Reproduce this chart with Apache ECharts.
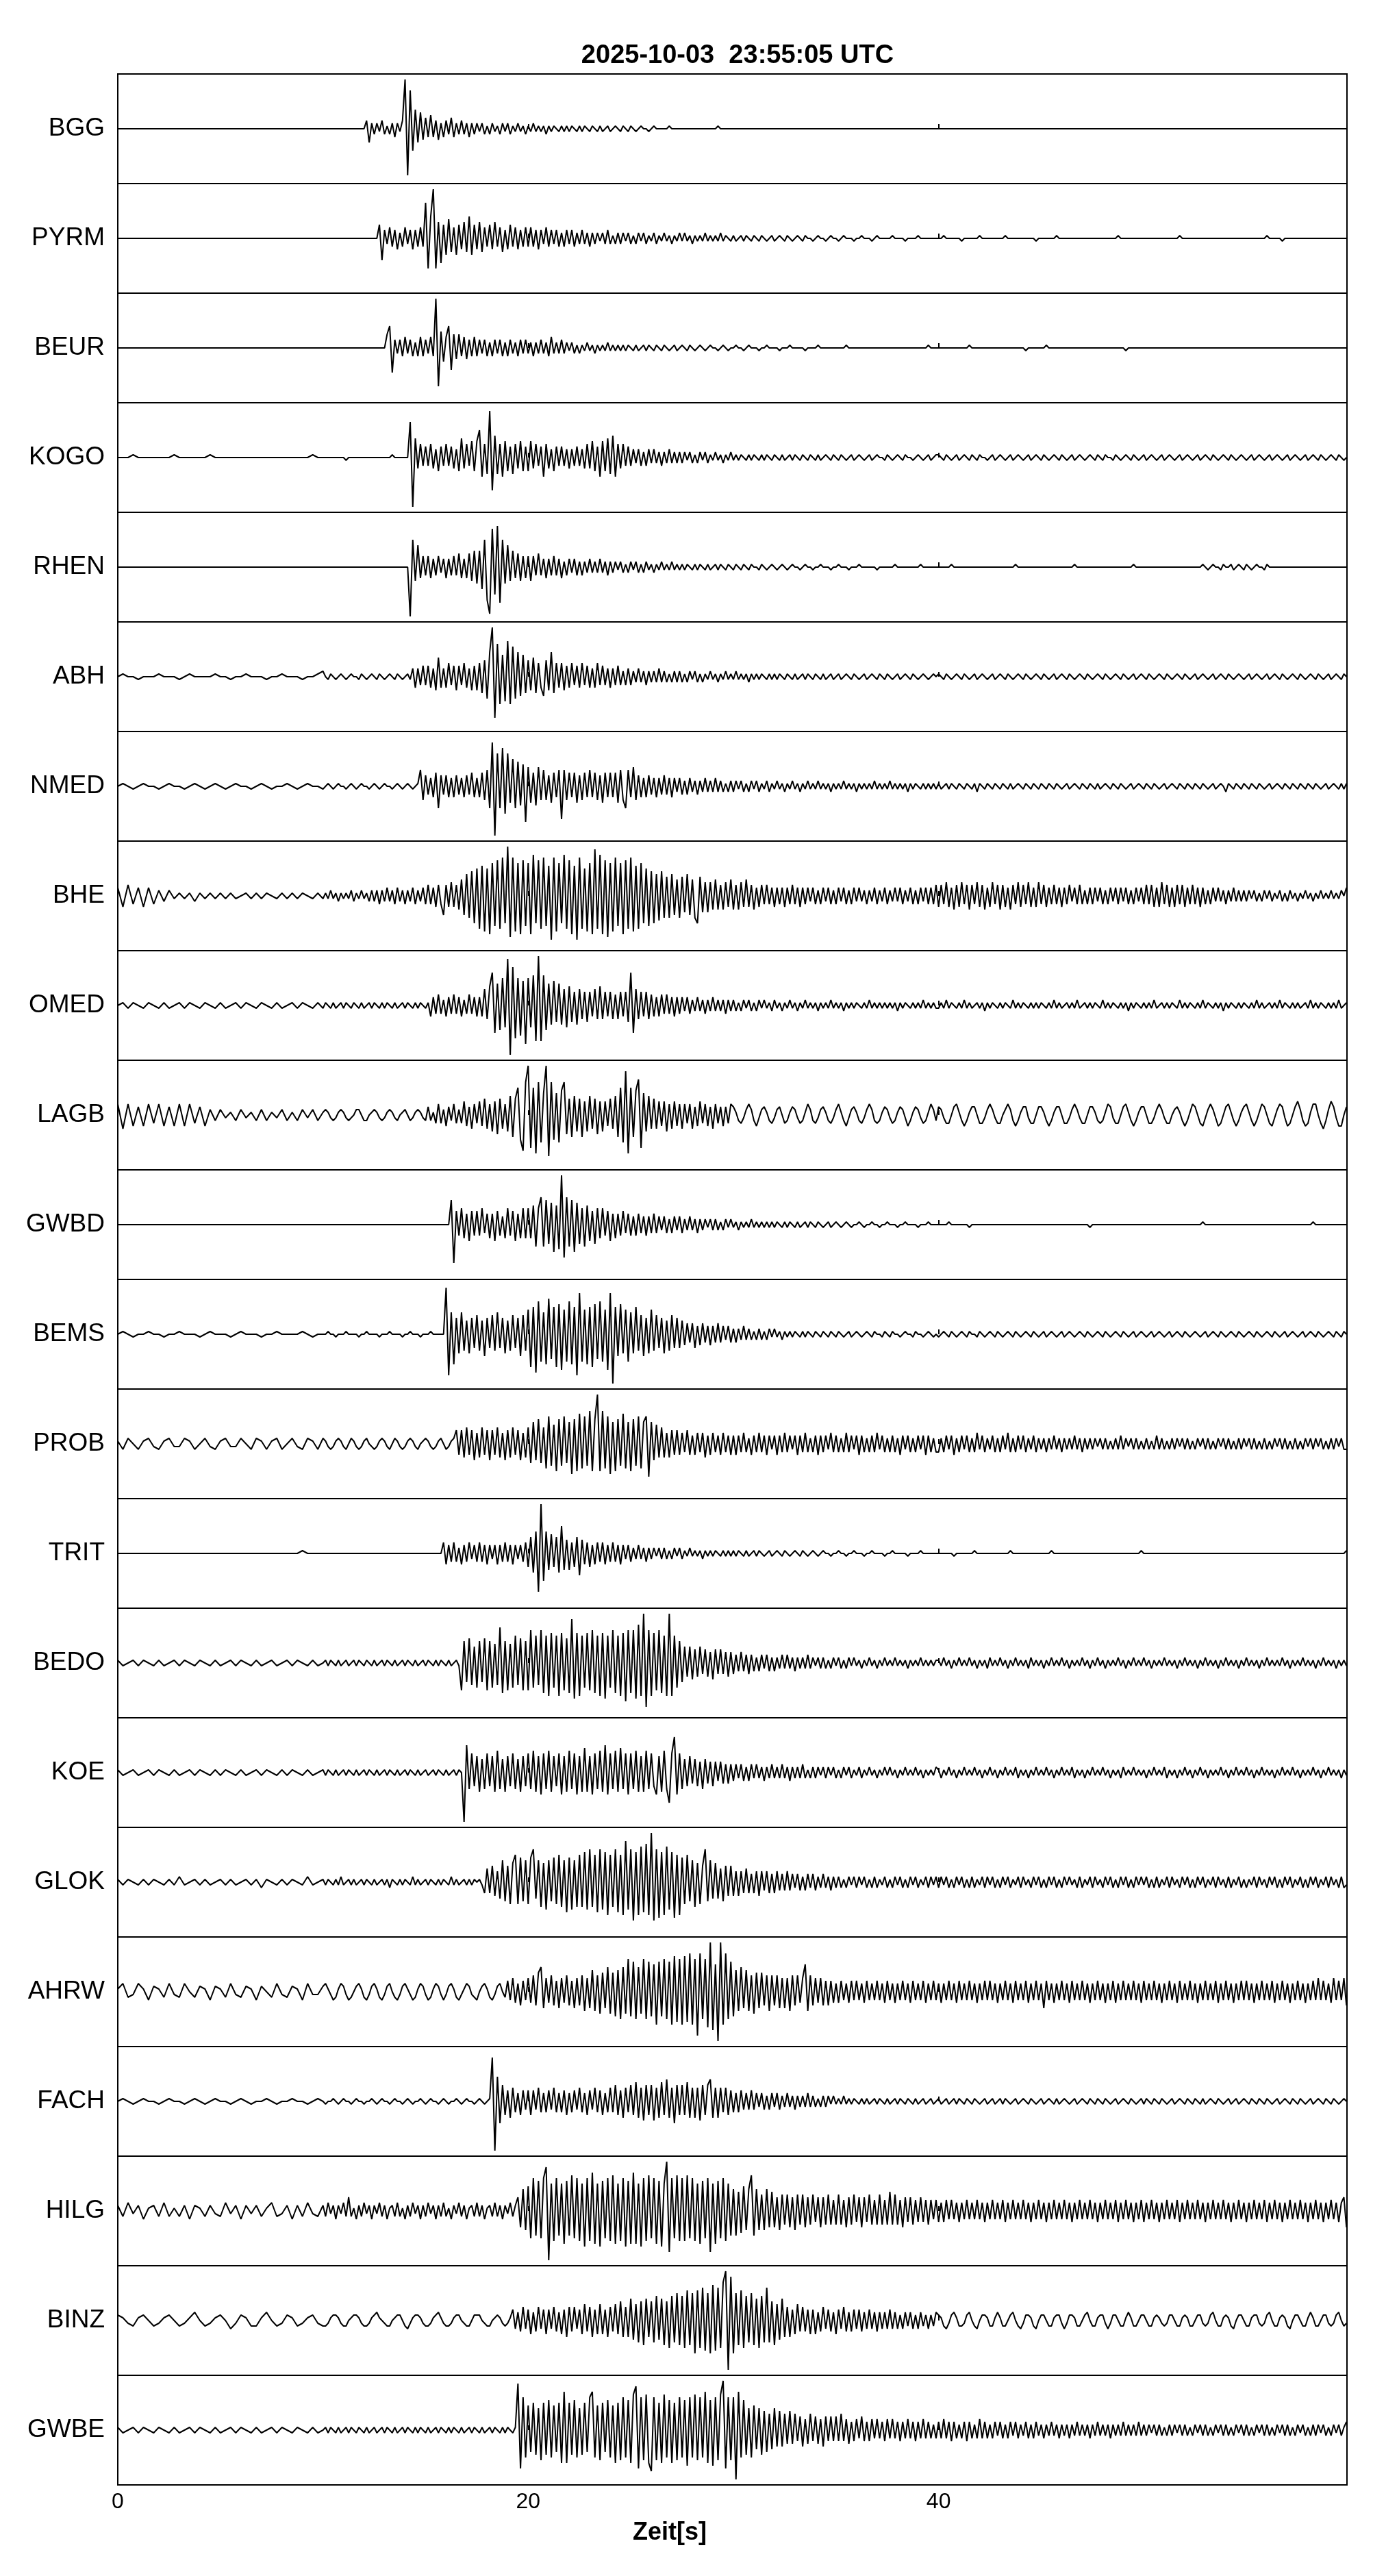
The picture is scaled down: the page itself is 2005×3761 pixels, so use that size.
<!DOCTYPE html>
<html>
<head>
<meta charset="utf-8">
<script src="https://cdn.jsdelivr.net/npm/echarts@6/dist/echarts.min.js"></script>
<style>html,body{margin:0;padding:0;background:#fff}#c{width:2005px;height:3761px}</style>
</head>
<body>
<div id="c"></div>
<script>
const TITLE = '2025-10-03  23:55:05 UTC';
const X_NAME = 'Zeit[s]';
const X_MAX = 59.9;
const X_TICK = 20;
// sampling schedule of every trace: [start s, step s, count]
const SEGMENTS = [[0, 0.25, 40], [10, 0.125, 400]];
const stations = ['BGG','PYRM','BEUR','KOGO','RHEN','ABH','NMED','BHE','OMED','LAGB','GWBD','BEMS','PROB','TRIT','BEDO','KOE','GLOK','AHRW','FACH','HILG','BINZ','GWBE'];

const BGG = [
0,0,0,0,0,0,0,0,0,0,0,0,0,0,0,0,0,0,0,0,
0,0,0,0,0,0,0,0,0,0,0,0,0,0,0,0,0,0,0,0,
0,0,0,0,0,0,0,0,0,0,0,0,0,0,0,0,0,3,-5,2,
-2,2,-1,3,-2,1,-2,2,-3,2,-1,3,18,-17,14,-8,7,-5,6,-4,
4,-3,5,-3,3,-4,2,-3,3,-2,4,-3,2,-2,3,-2,2,-3,2,-2,
2,-1,2,-2,1,-2,2,-1,1,-2,2,-1,2,-2,1,-1,2,-1,1,-2,
1,-1,2,-1,1,-1,1,-2,1,-1,1,0,-1,1,-1,1,-1,1,0,-1,
1,-1,1,0,-1,1,0,-1,1,-1,0,1,-1,0,1,0,-1,1,0,-1,
1,0,-1,0,1,0,0,-1,0,1,0,0,0,0,0,1,0,0,0,0,
0,0,0,0,0,0,0,0,0,0,0,0,0,0,1,0,0,0,0,0,
0,0,0,0,0,0,0,0,0,0,0,0,0,0,0,0,0,0,0,0,
0,0,0,0,0,0,0,0,0,0,0,0,0,0,0,0,0,0,0,0,
0,0,0,0,0,0,0,0,0,0,0,0,0,0,0,0,0,0,0,0,
0,0,0,0,0,0,0,0,0,0,0,0,0,0,0,0,0,0,0,0,
0,0,0,0,0,0,0,0,0,0,0,0,0,0,0,0,0,0,0,0,
0,0,0,0,0,0,0,0,0,0,0,0,0,0,0,0,0,0,0,0,
0,0,0,0,0,0,0,0,0,0,0,0,0,0,0,0,0,0,0,0,
0,0,0,0,0,0,0,0,0,0,0,0,0,0,0,0,0,0,0,0,
0,0,0,0,0,0,0,0,0,0,0,0,0,0,0,0,0,0,0,0,
0,0,0,0,0,0,0,0,0,0,0,0,0,0,0,0,0,0,0,0,
0,0,0,0,0,0,0,0,0,0,0,0,0,0,0,0,0,0,0,0,
0,0,0,0,0,0,0,0,0,0,0,0,0,0,0,0,0,0,0,0];

const PYRM = [
0,0,0,0,0,0,0,0,0,0,0,0,0,0,0,0,0,0,0,0,
0,0,0,0,0,0,0,0,0,0,0,0,0,0,0,0,0,0,0,0,
0,0,0,0,0,0,0,0,0,0,0,0,0,0,0,0,0,0,0,0,
0,0,5,-8,3,-2,4,-3,3,-4,2,-3,4,-2,3,-4,3,-3,4,-3,
13,-11,8,18,-11,6,-9,5,-6,7,-5,4,-6,5,-4,6,-5,8,-6,5,
-4,6,-5,4,-3,5,-4,6,-3,4,-5,3,-4,5,-3,4,-4,3,-3,4,
-3,4,-3,3,-4,3,-2,4,-3,3,-2,3,-3,2,-3,3,-2,3,-3,2,
-2,3,-2,2,-3,2,-2,2,-1,2,-2,3,-2,1,-2,2,-2,2,-1,2,
-2,1,-2,2,-1,2,-2,1,-1,2,-2,1,-1,2,-1,1,-2,1,-1,2,
-1,2,-1,1,-2,1,-1,1,-1,2,-1,1,-1,1,-1,2,-1,1,0,-1,
1,-1,0,1,-1,1,0,-1,1,0,-1,1,0,-1,0,1,-1,0,1,0,
-1,1,0,-1,0,1,0,-1,1,0,0,-1,0,1,0,0,-1,0,1,0,
0,-1,0,1,0,0,0,-1,0,0,1,0,0,0,-1,0,1,0,0,0,
0,0,1,0,0,0,0,-1,0,0,0,0,1,0,0,0,0,0,0,0,
0,0,1,0,0,0,0,0,0,-1,0,0,0,0,0,0,1,0,0,0,
0,0,0,0,0,0,1,0,0,0,0,0,0,0,0,0,0,0,-1,0,
0,0,0,0,0,0,1,0,0,0,0,0,0,0,0,0,0,0,0,0,
0,0,0,0,0,0,0,0,0,0,1,0,0,0,0,0,0,0,0,0,
0,0,0,0,0,0,0,0,0,0,0,0,0,0,1,0,0,0,0,0,
0,0,0,0,0,0,0,0,0,0,0,0,0,0,0,0,0,0,0,0,
0,0,0,0,0,0,0,0,1,0,0,0,0,0,-1,0,0,0,0,0,
0,0,0,0,0,0,0,0,0,0,0,0,0,0,0,0,0,0,0,0];

const BEUR = [
0,0,0,0,0,0,0,0,0,0,0,0,0,0,0,0,0,0,0,0,
0,0,0,0,0,0,0,0,0,0,0,0,0,0,0,0,0,0,0,0,
0,0,0,0,0,0,0,0,0,0,0,0,0,0,0,0,0,0,0,0,
0,0,0,0,0,5,8,-9,3,-2,3,-3,4,-2,3,-3,2,-3,4,-3,
3,-2,4,-3,18,-14,6,-5,4,8,-8,5,-4,5,-3,4,-4,3,-3,4,
-3,3,-2,3,-3,2,-3,3,-2,3,-3,2,-3,3,-2,2,-3,3,-2,3,
-2,2,-3,2,-2,3,-2,2,-3,4,-2,2,-2,3,-2,2,-1,2,-2,1,
-2,1,-1,2,-1,1,-2,1,-1,1,-1,2,-1,1,-1,1,-1,1,-1,1,
0,-1,1,-1,0,1,-1,1,0,-1,1,0,-1,1,0,-1,0,1,-1,0,
1,0,-1,1,0,-1,0,1,0,-1,0,1,0,0,-1,0,1,0,-1,0,
0,1,0,0,-1,0,1,0,0,0,-1,0,0,1,0,0,0,0,-1,0,
0,0,1,0,0,0,0,0,-1,0,0,0,0,1,0,0,0,0,0,0,
0,0,0,0,1,0,0,0,0,0,0,0,0,0,0,0,0,0,0,0,
0,0,0,0,0,0,0,0,0,0,0,0,0,0,0,0,1,0,0,0,
0,0,0,0,0,0,0,0,0,0,0,0,1,0,0,0,0,0,0,0,
0,0,0,0,0,0,0,0,0,0,0,0,0,0,-1,0,0,0,0,0,
0,0,1,0,0,0,0,0,0,0,0,0,0,0,0,0,0,0,0,0,
0,0,0,0,0,0,0,0,0,0,0,0,0,-1,0,0,0,0,0,0,
0,0,0,0,0,0,0,0,0,0,0,0,0,0,0,0,0,0,0,0,
0,0,0,0,0,0,0,0,0,0,0,0,0,0,0,0,0,0,0,0,
0,0,0,0,0,0,0,0,0,0,0,0,0,0,0,0,0,0,0,0,
0,0,0,0,0,0,0,0,0,0,0,0,0,0,0,0,0,0,0,0];

const KOGO = [
0,0,0,1,0,0,0,0,0,0,0,1,0,0,0,0,0,0,1,0,
0,0,0,0,0,0,0,0,0,0,0,0,0,0,0,0,0,0,1,0,
0,0,0,0,0,0,0,0,0,-1,0,0,0,0,0,0,0,0,0,0,
0,0,0,0,0,0,0,1,0,0,0,0,0,0,13,-18,7,-4,5,-3,
4,-3,5,-4,3,-5,4,-3,5,-3,4,-4,3,-5,7,-4,5,-3,6,-5,
6,10,-7,5,-6,17,-12,8,-6,5,-7,6,-5,4,-6,5,-4,6,-5,4,
-5,6,-4,5,-3,4,-7,5,-4,3,-5,4,-3,4,-3,3,-4,3,-3,4,
-3,3,-4,5,-4,6,-5,4,-7,6,-5,7,-6,8,-7,5,-4,5,-3,4,
-3,3,-2,3,-3,2,-3,3,-2,3,-2,2,-3,2,-2,3,-2,2,-2,2,
-2,2,-1,2,-2,1,-2,2,-1,2,-2,1,-1,2,-1,1,-2,1,-1,2,
-1,1,-1,1,0,-1,1,-1,1,0,-1,1,-1,1,0,-1,1,0,-1,1,
-1,0,1,-1,1,0,-1,1,0,-1,1,0,-1,1,-1,0,1,0,-1,1,
0,-1,1,0,-1,0,1,-1,0,1,0,-1,0,1,-1,0,1,0,0,-1,
1,0,-1,0,1,0,-1,1,0,0,-1,0,1,0,-1,0,1,-1,0,1,
1,0,-1,1,0,-1,0,1,-1,0,1,0,-1,1,0,-1,1,0,0,-1,
0,1,-1,0,1,0,-1,0,1,-1,0,1,0,-1,0,1,-1,0,1,0,
-1,1,0,-1,0,1,0,-1,1,0,-1,0,1,-1,0,1,0,-1,0,1,
0,-1,1,0,-1,1,0,0,-1,1,0,-1,0,1,0,-1,1,0,-1,0,
1,-1,0,1,0,-1,0,1,-1,0,1,0,-1,0,1,-1,0,1,0,-1,
0,1,-1,0,1,0,-1,1,0,-1,0,1,0,-1,1,0,-1,0,1,0,
-1,0,1,-1,0,1,0,-1,0,1,-1,0,1,0,-1,0,1,-1,0,1,
0,-1,0,1,-1,0,1,0,-1,1,0,-1,0,1,0,-1,1,0,-1,0];

const RHEN = [
0,0,0,0,0,0,0,0,0,0,0,0,0,0,0,0,0,0,0,0,
0,0,0,0,0,0,0,0,0,0,0,0,0,0,0,0,0,0,0,0,
0,0,0,0,0,0,0,0,0,0,0,0,0,0,0,0,0,0,0,0,
0,0,0,0,0,0,0,0,0,0,0,0,0,0,-18,10,-5,8,-4,4,
-3,4,-4,3,-3,4,-2,3,-4,3,-3,4,-3,5,-4,3,-4,5,-5,6,
-6,6,-8,10,-12,-17,14,-10,15,-13,10,-6,8,-5,6,-4,5,-5,4,-4,
4,-5,4,-3,5,-3,3,-4,3,-3,4,-3,3,-4,2,-3,3,-2,3,-3,
2,-3,2,-2,3,-2,2,-2,3,-2,2,-3,2,-2,2,-1,2,-2,1,-2,
2,-1,2,-2,1,-2,2,-1,1,-2,1,-1,2,-1,1,-1,2,-1,1,-1,
1,-1,1,0,-1,1,-1,1,0,-1,1,-1,0,1,-1,1,0,-1,1,0,
-1,1,0,-1,1,0,-1,1,0,0,-1,1,0,-1,0,1,0,-1,0,1,
0,-1,0,1,0,0,-1,0,1,0,0,-1,0,0,1,0,0,0,-1,0,
0,1,0,0,0,-1,0,0,0,1,0,0,0,0,0,0,-1,0,0,0,
0,0,0,1,0,0,0,0,0,0,0,0,0,1,0,0,0,0,0,0,
0,0,0,0,0,1,0,0,0,0,0,0,0,0,0,0,0,0,0,0,
0,0,0,0,0,0,0,0,0,0,1,0,0,0,0,0,0,0,0,0,
0,0,0,0,0,0,0,0,0,0,0,0,0,1,0,0,0,0,0,0,
0,0,0,0,0,0,0,0,0,0,0,0,0,0,0,0,1,0,0,0,
0,0,0,0,0,0,0,0,0,0,0,0,0,0,0,0,0,0,0,0,
0,0,0,1,0,-1,0,1,0,0,-1,1,0,0,1,-1,0,1,0,-1,
1,0,-1,0,1,0,0,-1,1,0,0,0,0,0,0,0,0,0,0,0,
0,0,0,0,0,0,0,0,0,0,0,0,0,0,0,0,0,0,0,0];

const ABH = [
0,1,0,0,-1,0,0,0,1,0,0,0,-1,0,1,0,0,0,0,1,
0,0,-1,0,0,1,0,0,0,-1,0,0,1,0,0,0,-1,0,0,1,
2,0,-1,1,0,-1,0,1,0,-1,0,1,0,0,-1,1,0,-1,0,1,
0,-1,1,0,-1,0,1,0,-1,1,0,-1,0,1,-1,3,-4,3,-3,4,
-3,4,-4,3,-5,7,-4,3,-4,5,-3,4,-5,4,-3,5,-4,3,-5,4,
-5,5,-6,6,-8,9,18,-15,12,-10,8,-9,13,-10,11,-8,9,-7,8,-6,
6,-5,7,-6,5,-4,-7,6,-5,9,-6,5,-4,5,-5,4,-4,5,-3,4,
-4,5,-3,4,-4,3,-4,5,-3,4,-3,3,-4,3,-3,4,-3,2,-3,3,
-3,2,-2,3,-2,2,-3,2,-2,2,-2,3,-2,2,-2,1,-2,2,-2,2,
-2,1,-2,2,-1,2,-2,1,-2,1,-1,2,-1,1,-2,1,-1,2,-1,1,
-1,2,-1,1,-1,1,-2,1,-1,1,-1,1,0,-1,1,-1,1,-1,1,0,
-1,1,0,-1,1,-1,0,1,-1,1,0,-1,1,0,-1,1,-1,0,1,-1,
0,1,-1,0,1,0,-1,1,0,-1,0,1,-1,0,1,0,-1,1,0,-1,
1,0,-1,0,1,-1,0,1,0,-1,1,0,-1,0,1,0,-1,0,1,0,
1,0,-1,1,0,-1,0,1,0,-1,1,0,-1,0,1,-1,0,1,0,-1,
0,1,-1,0,1,0,-1,1,0,-1,0,1,0,-1,1,0,-1,0,1,0,
-1,1,0,-1,0,1,-1,0,1,0,-1,1,0,-1,0,1,0,-1,1,0,
-1,0,1,0,-1,1,0,-1,0,1,0,-1,1,0,-1,0,1,-1,0,1,
0,-1,1,0,-1,0,1,0,-1,1,0,-1,0,1,0,-1,1,0,-1,0,
1,-1,0,1,0,-1,0,1,-1,0,1,0,-1,1,0,-1,0,1,0,-1,
0,1,-1,0,1,0,-1,0,1,-1,0,1,0,-1,1,0,-1,0,1,0,
-1,1,0,-1,0,1,0,-1,1,0,-1,0,1,-1,0,1,0,-1,1,0];

const NMED = [
0,1,0,-1,0,1,0,0,-1,0,1,0,0,-1,0,1,0,-1,0,1,
0,-1,0,1,0,0,-1,0,1,0,-1,0,0,1,0,-1,0,1,0,0,
-1,0,1,0,-1,0,1,0,0,-1,0,1,0,-1,0,1,0,0,-1,0,
1,0,-1,0,1,0,0,-1,0,1,0,-1,0,1,0,-1,0,1,6,-5,
4,-3,3,-4,5,-8,4,-3,4,-4,3,-4,4,-3,3,-4,4,-3,5,-4,
3,-4,5,-5,6,-8,16,-18,12,-8,14,-10,12,-6,10,-8,9,-7,8,-13,
7,-6,5,-7,7,-5,6,-5,4,-6,5,-4,6,-12,6,-5,5,-4,5,-6,
4,-5,5,-4,6,-4,5,-5,4,-6,5,-4,5,-4,5,-6,6,-5,-8,6,
-4,7,-5,4,-4,3,-4,4,-3,3,-4,3,-3,4,-3,3,-4,3,-2,3,
-3,2,-3,3,-2,2,-3,2,-2,3,-2,2,-2,3,-2,2,-2,1,-2,2,
-2,2,-1,2,-2,1,-2,2,-1,2,-2,1,-1,2,-2,1,-1,2,-1,1,
-2,1,-1,2,-1,1,-2,1,-1,2,-1,1,-1,2,-1,1,-1,1,-2,1,
-1,1,-1,2,-1,1,-1,1,-2,1,-1,1,-1,1,-1,2,-1,1,-1,1,
-1,2,-1,1,-1,1,-1,1,-2,1,-1,1,0,-1,1,-1,1,-1,1,-1,
1,-1,0,1,-1,1,0,-1,1,0,-1,1,0,-1,1,-2,1,0,-1,1,
0,-1,1,0,-1,1,0,-1,1,-1,0,1,0,-1,1,0,-1,1,0,-1,
1,0,-1,1,0,-1,1,0,-1,0,1,-1,0,1,0,-1,1,0,-1,1,
0,-1,1,-1,0,1,0,-1,1,0,-1,1,0,-1,0,1,-1,0,1,0,
-1,1,0,-1,1,0,-1,0,1,-1,0,1,0,-1,1,0,-1,1,0,-1,
1,0,-1,1,0,-1,0,1,-1,0,1,0,-2,1,0,-1,1,0,-1,1,
0,-1,1,0,-1,1,0,-1,0,1,-1,0,1,0,-1,1,0,-1,1,0,
-1,1,0,-1,1,0,-1,1,0,-1,0,1,-1,0,1,0,-1,1,-1,1];

const BHE = [
3,-4,4,-3,3,-4,3,-3,2,-2,2,-1,1,-1,1,-2,1,-1,1,-1,
1,-1,1,-1,0,1,-1,1,-1,1,0,-1,1,-1,1,-1,1,0,-1,1,
-1,1,-1,2,-1,1,-2,1,-1,1,-1,2,-2,1,-1,2,-1,1,-2,2,
-2,2,-3,2,-2,3,-2,2,-3,3,-2,2,-3,2,-2,3,-3,2,-2,3,
-3,4,-3,3,-4,4,-3,-7,4,-4,5,-4,4,-5,6,-7,8,-8,9,-10,
10,-12,11,-13,10,-14,12,-11,13,-12,14,-10,18,-15,14,-13,12,-14,13,-11,
12,-14,15,-10,13,-12,14,-11,11,-16,14,-13,12,-10,15,-12,13,-14,11,-16,
14,-12,10,-13,12,-14,17,-12,15,-14,13,-15,12,-13,14,-11,12,-14,13,-12,
14,-13,11,-12,12,-10,10,-11,9,-10,8,-9,9,-8,7,-8,8,-7,6,-8,
7,-6,8,-7,6,-8,-10,7,-6,5,-6,5,-5,6,-5,4,-5,5,-4,6,
-5,4,-5,5,-4,6,-4,4,-5,3,-4,4,-3,4,-3,3,-4,3,-3,3,
-4,3,-3,4,-3,3,-4,3,-3,3,-2,3,-3,2,-3,3,-2,3,-3,2,
-3,3,-2,3,-3,2,-3,3,-2,3,-2,2,-3,2,-2,3,-3,2,-2,3,
-3,2,-2,3,-2,3,-3,2,-2,3,-3,2,-3,3,-2,3,-3,3,-3,4,
-4,4,-3,5,-4,3,-5,4,-4,5,-3,4,-5,4,-3,5,-4,4,-5,3,
-4,5,-3,4,-5,4,-4,3,-5,4,-3,5,-4,4,-3,5,-4,3,-4,5,
-3,4,-4,3,-3,4,-3,3,-4,3,-3,4,-2,3,-3,4,-3,2,-3,3,
-3,3,-2,3,-3,2,-3,3,-2,3,-3,3,-2,3,-3,2,-3,3,-2,3,
-3,4,-3,4,-4,3,-4,5,-3,4,-4,3,-4,4,-3,4,-4,3,-3,4,
-3,3,-4,3,-3,2,-3,3,-2,3,-2,2,-3,2,-2,3,-2,2,-2,2,
-2,2,-1,2,-2,1,-2,2,-1,2,-2,1,-1,2,-2,1,-2,2,-1,1,
-2,1,-1,2,-1,1,-2,1,-1,2,-1,1,-1,2,-1,1,-1,2,0,3];

const OMED = [
0,1,-1,1,0,-1,1,0,-1,1,-1,0,1,-1,1,0,-1,1,0,-1,
1,-1,0,1,-1,1,0,-1,1,0,-1,1,-1,0,1,-1,1,0,-1,1,
-1,1,0,-1,1,-1,0,1,-1,1,0,-1,1,0,-1,1,-1,0,1,-1,
1,0,-1,1,-1,1,0,-1,1,-1,0,1,-1,1,0,-1,1,-1,1,0,
-1,1,-4,3,-3,4,-3,2,-4,3,-3,4,-3,3,-4,2,-3,4,-3,3,
-4,3,-4,6,-5,7,12,-10,8,-9,10,-8,17,-18,14,-12,10,-11,9,-14,
10,-8,11,-13,18,-13,11,-9,8,-7,9,-6,8,-7,6,-8,7,-6,5,-7,
6,-5,5,-6,5,-4,6,-5,7,-5,5,-4,5,-5,4,-5,5,-4,5,-6,
12,-10,6,-5,5,-4,5,-5,4,-4,3,-4,4,-3,4,-3,3,-4,3,-3,
3,-2,3,-3,2,-2,3,-2,2,-3,2,-2,3,-2,2,-2,2,-3,2,-2,
2,-2,1,-2,2,-1,2,-2,1,-2,2,-1,2,-1,1,-2,2,-1,1,-2,
1,-1,2,-1,1,-2,1,-1,2,-1,1,-1,1,-2,1,-1,1,-1,2,-1,
1,-1,1,-2,1,-1,1,-1,1,0,-1,1,-1,2,-1,1,-1,1,-1,1,
-1,1,-1,1,-2,1,-1,1,0,-1,1,-1,1,-1,2,-1,1,-1,1,-1,
-1,1,-1,2,-1,1,0,-1,1,-1,2,-1,1,-1,0,1,-1,1,-2,1,
-1,1,0,-1,1,-1,1,0,-1,2,-1,1,-1,1,0,-1,1,-1,1,-1,
1,0,-1,1,-1,2,-1,1,-1,0,1,-1,1,-1,2,-1,0,1,-1,1,
-1,1,0,-1,2,-1,1,-1,1,0,-1,1,-1,1,-2,1,-1,1,0,-1,
1,-1,1,-1,2,-1,0,1,-1,1,-1,1,0,-1,2,-1,1,-1,1,0,
-1,1,-1,2,-1,1,0,-1,1,-1,1,-2,1,-1,1,0,-1,1,-1,1,
0,-1,1,-1,2,-1,1,-1,0,1,-1,1,-1,2,-1,1,0,-1,1,-1,
1,-1,0,1,-1,2,-1,1,-1,1,0,-1,1,-1,1,-1,2,-1,0,1];

const LAGB = [
4,-5,4,-4,3,-4,4,-3,4,-4,3,-4,4,-4,4,-3,3,-4,2,-2,
2,-1,1,-2,2,-1,1,-2,2,-2,1,-1,2,-2,1,-2,2,-1,2,-2,
1,2,1,-1,-2,-1,1,2,1,-1,-2,-1,0,2,2,0,-2,-2,0,1,
2,1,-1,-2,-1,1,2,1,-1,-2,0,1,2,0,-2,-1,1,2,1,-1,
-2,3,-2,1,-3,4,-3,2,-4,3,-2,4,-3,2,-3,5,-4,3,-5,4,
-3,5,-4,6,-5,4,-6,5,-7,6,-5,4,-6,7,-8,6,10,-9,-13,12,
18,-12,10,-14,12,-10,8,18,-15,12,-9,8,-10,9,12,-7,6,-8,7,-6,
6,-8,5,-6,7,-5,6,-7,5,-6,5,-4,6,-5,7,-8,10,-10,16,-14,
10,-8,9,13,-12,8,-6,7,-5,6,-5,5,-4,5,-6,4,-5,5,-4,4,
-5,4,-3,4,-5,3,-4,5,-3,4,-4,3,-5,4,-3,3,-4,3,-3,4,
3,1,-2,-3,-1,2,4,2,-2,-4,-1,2,3,1,-2,-3,-1,2,3,0,
-3,-2,1,3,2,-1,-3,-2,1,4,2,-2,-3,-1,2,3,1,-2,-3,-1,
2,4,1,-2,-4,-1,2,3,1,-2,-3,-1,2,4,2,-2,-3,-2,1,3,
2,-1,-3,-2,1,3,2,-1,-4,-2,1,3,2,-1,-3,-2,1,4,2,-2,
3,2,-1,-3,-3,0,3,4,1,-2,-4,-2,1,3,3,0,-3,-3,-1,2,
4,2,-1,-3,-3,0,2,4,2,-2,-4,-2,1,3,3,-1,-3,-3,0,3,
3,1,-2,-4,-2,1,3,3,0,-3,-3,-1,2,4,2,-1,-3,-3,0,3,
3,1,-2,-3,-2,1,4,3,-1,-3,-3,0,3,4,1,-2,-4,-2,1,3,
3,0,-3,-3,-1,2,4,2,-1,-3,-3,0,2,3,1,-2,-4,-2,1,4,
3,0,-3,-4,-1,2,4,2,-1,-4,-3,0,3,4,1,-2,-4,-2,1,3,
4,1,-2,-4,-2,1,4,3,0,-3,-4,-1,2,4,3,-1,-4,-3,0,3,
5,2,-2,-4,-3,1,4,4,0,-3,-5,-2,2,5,3,-1,-4,-4,0,3];

const GWBD = [
0,0,0,0,0,0,0,0,0,0,0,0,0,0,0,0,0,0,0,0,
0,0,0,0,0,0,0,0,0,0,0,0,0,0,0,0,0,0,0,0,
0,0,0,0,0,0,0,0,0,0,0,0,0,0,0,0,0,0,0,0,
0,0,0,0,0,0,0,0,0,0,0,0,0,0,0,0,0,0,0,0,
0,0,0,0,0,0,0,0,0,0,9,-14,5,-4,6,-5,4,-6,5,-4,
5,-4,6,-3,4,-5,4,-6,5,-4,3,-5,6,-4,5,-6,4,-5,6,-5,
6,-5,7,-8,6,10,-8,9,-7,8,-10,7,-9,18,-12,10,-8,9,-10,8,
-7,6,-8,7,-6,5,-7,6,-5,6,-4,5,-6,4,-5,4,-4,5,-3,4,
-4,3,-4,4,-3,3,-4,3,-3,4,-3,3,-2,3,-3,2,-3,3,-2,3,
-3,2,-2,3,-2,2,-3,2,-2,2,-1,2,-2,2,-2,1,-2,2,-1,2,
-1,1,-2,1,-1,1,-1,2,-1,1,-1,1,-1,1,-1,1,-1,1,0,-1,
1,-1,1,0,-1,1,-1,0,1,-1,1,0,-1,1,0,-1,0,1,-1,0,
1,0,-1,0,1,0,-1,0,0,1,0,-1,0,0,1,0,0,-1,0,0,
1,0,0,0,-1,0,0,1,0,0,0,0,-1,0,0,0,1,0,0,0,
0,0,0,0,1,0,0,0,0,0,0,0,-1,0,0,0,0,0,0,0,
0,0,0,0,0,0,0,0,0,0,0,0,0,0,0,0,0,0,0,0,
0,0,0,0,0,0,0,0,0,0,0,0,0,0,0,0,0,0,0,-1,
0,0,0,0,0,0,0,0,0,0,0,0,0,0,0,0,0,0,0,0,
0,0,0,0,0,0,0,0,0,0,0,0,0,0,0,0,0,0,0,0,
0,0,0,1,0,0,0,0,0,0,0,0,0,0,0,0,0,0,0,0,
0,0,0,0,0,0,0,0,0,0,0,0,0,0,0,0,0,0,0,0,
0,0,0,0,0,0,1,0,0,0,0,0,0,0,0,0,0,0,0,0];

const BEMS = [
0,1,0,-1,0,0,1,0,0,-1,0,0,1,0,0,0,-1,0,1,0,
0,0,-1,0,1,0,0,0,-1,0,0,1,0,0,0,0,1,0,-1,0,
0,0,1,0,0,-1,0,0,0,1,0,0,0,0,-1,0,0,1,0,0,
0,0,-1,0,0,0,1,0,0,0,0,-1,0,0,1,0,0,0,-1,0,
0,0,1,0,0,0,0,0,17,-15,8,-11,6,-7,8,-6,5,-7,6,-5,
7,-6,5,-8,6,-5,7,-6,8,-5,6,-7,5,-6,7,-5,6,-8,7,-6,
9,-12,10,-14,12,-10,8,-11,13,-9,10,-12,11,-13,9,-10,12,-11,10,-15,
15,-10,9,-11,10,-12,11,-9,12,-10,9,-13,15,-18,10,-8,11,-7,9,-10,
8,-7,10,-6,7,-8,6,-7,9,-6,7,-5,6,-7,5,-6,7,-5,6,-5,
5,-4,4,-3,4,-5,3,-4,4,-3,3,-4,3,-3,4,-3,3,-2,3,-3,
2,-3,2,-2,3,-2,2,-2,1,-2,2,-2,1,-2,2,-1,2,-1,1,-2,
1,-1,1,-1,1,0,-1,1,-1,1,0,-1,1,0,-1,1,0,-1,1,0,
-1,1,0,-1,0,1,-1,0,1,0,-1,0,1,0,-1,1,0,0,-1,1,
0,-1,1,0,0,-1,0,1,0,0,-1,1,0,0,-1,0,1,0,-1,0,
-1,0,1,0,-1,1,0,-1,0,1,0,-1,1,0,0,-1,1,0,-1,0,
1,0,-1,1,0,-1,0,1,0,-1,1,0,-1,0,1,0,-1,1,0,-1,
0,1,-1,0,1,0,-1,0,1,-1,0,1,0,-1,0,1,0,-1,1,0,
-1,0,1,0,-1,1,0,-1,0,1,0,-1,1,0,-1,0,1,-1,0,1,
0,-1,0,1,-1,0,1,0,-1,0,1,-1,0,1,0,-1,1,0,-1,0,
1,0,-1,0,1,-1,0,1,0,-1,1,0,-1,0,1,0,-1,1,0,-1,
0,1,0,-1,1,0,-1,0,1,0,-1,1,0,-1,0,1,-1,0,1,0,
-1,0,1,-1,0,1,0,-1,1,0,-1,0,1,0,-1,1,0,-1,1,0];

const PROB = [
1,-2,2,0,-2,1,2,-1,-2,1,2,-1,-1,2,1,-2,0,2,-1,-2,
1,2,-1,-1,2,0,-2,2,1,-2,1,2,-2,0,2,-1,-2,2,1,-2,
2,1,-1,-2,-1,1,2,1,-1,-2,0,2,1,-1,-2,-1,1,2,0,-1,
-2,-1,1,2,1,-1,-2,0,2,1,-1,-2,-1,1,2,1,-1,-2,0,1,
2,1,-1,-2,-1,1,2,0,-2,-1,1,2,5,-4,5,-5,6,-4,5,-6,
4,-5,6,-4,5,-6,5,-4,6,-5,4,-6,5,-5,6,-4,5,-6,4,-5,
6,-7,8,-6,9,-7,6,-9,10,-8,7,-10,9,-8,10,-7,8,-11,9,-10,
11,-9,10,-8,12,-10,9,18,-10,12,-9,10,-11,8,-10,9,-8,11,-9,8,
-10,9,-8,10,-9,8,10,-12,8,-6,7,-5,6,-5,4,-5,5,-4,5,-4,
4,-3,5,-4,3,-4,4,-3,4,-5,3,-4,4,-3,3,-4,4,-3,3,-4,
3,-4,3,-3,4,-3,2,-4,3,-3,4,-3,3,-4,3,-2,3,-4,3,-3,
4,-3,3,-2,3,-4,3,-3,4,-3,2,-3,3,-4,3,-3,3,-2,4,-3,
3,-3,2,-3,4,-3,3,-2,3,-4,3,-3,2,-3,3,-3,4,-2,3,-3,
2,-3,3,-3,2,-4,3,-2,3,-3,2,-3,3,-2,3,-4,3,-3,2,-3,
-3,2,-3,3,-2,3,-4,2,-3,3,-2,3,-3,2,-3,4,-2,3,-3,2,
-2,3,-3,2,-3,3,-2,4,-3,2,-3,3,-2,3,-3,2,-2,3,-3,2,
-2,2,-3,2,-2,3,-2,2,-3,2,-2,2,-2,3,-2,2,-3,2,-2,2,
-2,2,-1,2,-2,2,-2,1,-2,2,-2,3,-2,2,-1,2,-2,2,-2,1,
-2,2,-2,1,-2,3,-2,2,-2,1,-2,2,-2,2,-1,2,-2,2,-2,1,
-2,2,-1,2,-2,2,-2,1,-2,2,-1,2,-2,2,-2,1,-2,2,-2,2,
-1,2,-2,2,-2,1,-2,2,-2,1,-2,2,-1,2,-2,2,-2,1,-2,2,
-2,1,-2,2,-1,2,-2,2,-1,2,-2,1,-2,2,-2,2,-1,2,-2,-2];

const TRIT = [
0,0,0,0,0,0,0,0,0,0,0,0,0,0,0,0,0,0,0,0,
0,0,0,0,0,0,0,0,0,0,0,0,0,0,0,0,1,0,0,0,
0,0,0,0,0,0,0,0,0,0,0,0,0,0,0,0,0,0,0,0,
0,0,0,0,0,0,0,0,0,0,0,0,0,0,0,0,0,0,0,0,
0,0,0,0,0,0,0,4,-4,3,-3,4,-3,2,-4,3,-3,4,-2,3,
-3,4,-3,3,-4,3,-2,3,-4,3,-3,4,-3,3,-4,3,-2,3,-3,4,
-5,6,-7,8,-14,18,-10,8,-6,7,-5,6,-7,10,-6,5,-6,4,-5,6,
-8,5,-4,4,-5,3,-4,4,-3,4,-4,3,-3,4,-3,3,-4,3,-2,3,
-3,2,-2,3,-2,2,-3,2,-2,2,-1,2,-2,2,-2,1,-2,2,-1,2,
-2,1,-1,2,-1,1,-1,1,-2,1,-1,1,-1,1,0,-1,1,-1,1,-1,
1,-1,1,0,-1,1,-1,0,1,-1,1,0,-1,0,1,-1,0,1,0,-1,
1,0,-1,0,1,0,-1,1,0,-1,0,1,0,-1,0,1,0,0,-1,0,
0,1,0,0,-1,0,0,1,0,0,0,-1,0,0,1,0,0,0,0,-1,
0,0,1,0,0,0,0,0,-1,0,0,0,0,1,0,0,0,0,0,0,
0,0,0,0,0,0,-1,0,0,0,0,0,0,0,1,0,0,0,0,0,
0,0,0,0,0,0,0,0,1,0,0,0,0,0,0,0,0,0,0,0,
0,0,0,0,1,0,0,0,0,0,0,0,0,0,0,0,0,0,0,0,
0,0,0,0,0,0,0,0,0,0,0,0,0,0,0,0,0,0,0,1,
0,0,0,0,0,0,0,0,0,0,0,0,0,0,0,0,0,0,0,0,
0,0,0,0,0,0,0,0,0,0,0,0,0,0,0,0,0,0,0,0,
0,0,0,0,0,0,0,0,0,0,0,0,0,0,0,0,0,0,0,0,
0,0,0,0,0,0,0,0,0,0,0,0,0,0,0,0,0,0,0,1];

const BEDO = [
1,-1,0,1,-1,1,0,-1,1,-1,0,1,-1,1,0,-1,1,0,-1,1,
-1,0,1,-1,1,0,-1,1,-1,0,1,-1,0,1,-1,1,0,-1,1,-1,
0,1,-1,1,0,-1,1,-1,0,1,-1,0,1,-1,1,0,-1,1,0,-1,
1,-1,0,1,-1,1,0,-1,1,-1,0,1,-1,1,0,-1,1,-1,0,1,
-1,1,0,-1,1,-1,1,0,-1,1,-1,0,1,-1,-10,8,-7,9,-8,6,
-9,8,-7,9,-10,8,-9,7,-8,13,-11,8,-10,7,-9,10,-8,9,-10,8,
-10,12,-9,10,-8,12,-11,10,-12,11,-9,10,-12,11,-10,9,-11,16,-13,11,
-12,10,-9,11,-10,12,-11,10,-12,11,-13,10,-9,12,-11,10,-12,11,-14,12,
-11,12,-13,14,-12,18,-16,12,-12,11,-10,12,-11,10,-12,18,-12,10,-9,8,
-7,6,-5,6,-6,5,-5,6,-4,5,-5,4,-6,5,-4,5,-4,4,-5,4,
-4,3,-3,4,-3,3,-4,3,-3,2,-3,3,-2,3,-3,2,-3,2,-2,3,
-2,3,-2,2,-3,2,-2,2,-2,3,-2,2,-1,2,-2,2,-2,1,-2,2,
-1,2,-2,1,-2,2,-1,2,-1,1,-2,1,-1,2,-1,1,-2,1,-1,2,
-1,1,-1,2,-1,1,-1,1,-2,1,-1,1,-1,2,-1,1,-1,1,-1,1,
1,-1,2,-1,1,-2,1,-1,2,-1,1,-1,2,-1,1,-2,1,-1,1,-2,
2,-1,1,-1,2,-1,1,-2,1,-1,2,-1,1,-1,1,-2,2,-1,1,-1,
1,-2,1,-1,2,-1,1,-1,2,-1,1,-2,1,-1,1,-1,2,-1,1,-2,
1,-1,2,-1,1,-2,1,-1,1,-1,2,-1,1,-2,1,-1,2,-1,1,-1,
2,-1,1,-2,1,-1,1,-1,2,-1,1,-1,1,-2,1,-1,2,-1,1,-1,
1,-2,1,-1,2,-1,1,-1,1,-2,1,-1,2,-1,1,-1,1,-2,1,-1,
2,-1,1,-1,1,-2,1,-1,2,-1,1,-1,1,-1,2,-1,1,-2,1,-1,
1,-1,2,-1,1,-1,1,-2,1,-1,2,-1,1,-1,1,-2,1,-1,1,-1];

const KOE = [
1,-1,0,1,-1,0,1,-1,1,0,-1,1,-1,0,1,-1,1,0,-1,1,
-1,1,0,-1,1,-1,0,1,-1,1,0,-1,1,-1,1,0,-1,1,-1,0,
1,-1,1,0,-1,1,-1,0,1,-1,1,0,-1,1,-1,0,1,-1,1,0,
-1,1,-1,0,1,-1,1,0,-1,1,-1,0,1,-1,1,0,-1,1,-1,0,
1,-1,0,1,-1,1,0,-1,1,-1,0,1,-1,1,0,-18,10,-6,7,-5,
6,-7,5,-6,7,-5,6,-7,8,-6,5,-7,6,-5,7,-6,5,-7,6,-5,
7,-6,8,-7,6,-8,7,-6,8,-7,6,-5,7,-8,6,-7,8,-6,7,-8,
6,-7,9,-7,6,-8,7,-6,8,-7,10,-8,7,-6,8,-7,9,-6,7,-8,
7,-6,8,-7,6,-7,8,-6,7,-5,-8,6,-7,8,-6,-11,7,13,-8,7,
-6,5,-5,6,-4,5,-5,4,-6,5,-4,4,-5,4,-3,4,-4,3,-4,3,
-3,3,-2,3,-3,2,-3,3,-2,3,-2,2,-3,2,-2,3,-2,2,-2,3,
-2,2,-3,2,-2,2,-2,3,-2,1,-2,2,-2,2,-1,2,-2,2,-1,2,
-2,1,-2,2,-1,2,-2,1,-1,2,-2,1,-1,2,-1,1,-2,1,-1,2,
-1,2,-1,1,-2,1,-1,2,-1,1,-1,2,-1,1,-2,1,-1,1,-1,2,
1,-2,1,-1,2,-1,1,-2,1,-1,2,-1,1,-1,2,-1,1,-2,1,-1,
2,-1,1,-2,1,-1,2,-1,1,-1,2,-2,1,-1,1,-2,1,-1,2,-1,
1,-1,2,-1,1,-2,1,-1,2,-1,1,-1,2,-2,1,-1,1,-2,1,-1,
2,-1,1,-1,2,-1,1,-2,1,-1,1,-2,2,-1,1,-1,2,-1,1,-1,
1,-2,1,-1,2,-1,1,-1,2,-2,1,-1,1,-2,1,-1,2,-1,1,-2,
1,-1,2,-1,1,-2,1,-1,1,-1,2,-1,1,-2,1,-1,2,-1,1,-1,
2,-1,1,-2,1,-1,2,-1,1,-1,1,-2,1,-1,2,-1,1,-1,2,-1,
1,-2,1,-1,1,-1,2,-1,1,-2,1,-1,2,-1,1,-1,1,-2,1,-1];

const GLOK = [
1,-1,1,0,-1,1,-1,1,0,-1,1,-1,2,-1,0,1,-1,1,-1,0,
1,-1,1,-1,0,1,-1,1,-2,1,0,-1,1,-1,1,0,-1,2,-1,0,
1,-1,1,0,-1,1,-1,2,-1,0,1,-1,1,-1,0,1,-1,1,0,-1,
1,-1,0,1,-1,1,-2,1,0,-1,1,-1,1,0,-1,2,-1,1,-1,0,
1,-1,1,0,-1,1,-1,1,0,-1,2,-1,1,-1,0,1,-1,1,-1,1,
0,1,-1,-4,5,-4,6,-5,4,-6,8,-7,6,-8,7,10,-8,9,-7,8,
-8,9,12,-6,8,-9,7,-10,8,-7,9,-8,10,-9,8,-11,9,-10,8,-9,
10,-9,11,-10,12,-9,10,-11,12,-10,11,-12,10,-9,12,-11,10,-12,15,-10,
12,-14,11,-12,13,-11,14,-12,18,-14,12,-13,11,-12,13,-10,11,-13,10,-12,
9,-8,10,-7,8,-9,7,-8,6,12,-7,8,-6,7,-6,5,-7,6,-5,6,
-5,4,-5,4,-4,5,-4,3,-4,4,-5,4,-3,4,-4,3,-4,4,-3,3,
-3,4,-3,3,-2,3,-3,2,-3,3,-2,3,-3,2,-2,3,-2,2,-3,2,
-2,2,-2,1,-2,2,-1,2,-2,2,-1,2,-2,1,-2,2,-2,1,-1,2,
-2,1,-2,2,-1,2,-2,1,-2,2,-1,2,-2,1,-1,2,-2,2,-1,2,
-2,2,-1,2,-2,1,-2,2,-1,2,-2,1,-2,2,-2,1,-1,2,-2,2,
-1,2,-2,1,-2,2,-1,2,-2,1,-1,2,-2,2,-1,1,-2,2,-1,2,
-2,1,-2,2,-1,2,-2,1,-2,2,-1,2,-1,1,-2,2,-2,1,-1,2,
-2,2,-1,1,-2,2,-1,2,-2,1,-2,2,-1,2,-2,1,-2,2,-1,2,
-1,2,-2,1,-2,2,-2,1,-1,2,-2,2,-1,1,-2,2,-1,2,-2,1,
-2,2,-1,2,-2,1,-1,2,-2,2,-1,1,-2,2,-2,1,-1,2,-2,1,
-2,1,-1,2,-2,2,-1,1,-2,2,-1,2,-2,1,-2,2,-1,2,-2,1,
-1,2,-2,1,-2,2,-1,2,-2,1,-1,2,-2,2,-1,1,-2,2,-2,-1];

const AHRW = [
1,3,-2,-1,3,1,-3,2,1,-2,3,-1,-2,3,0,-2,2,1,-3,2,
1,-2,3,-1,-2,2,1,-3,2,0,-2,3,-1,-2,2,1,-3,3,-1,-1,
2,3,1,-1,-3,-2,1,3,2,-1,-3,-2,0,2,3,1,-2,-3,-1,2,
3,1,-2,-3,-1,2,3,0,-2,-3,-1,2,3,1,-1,-3,-2,1,3,2,
-1,-3,-2,1,3,2,-1,-3,-1,2,3,1,-2,-3,-1,1,3,2,-1,-2,
-3,0,2,3,1,-2,-3,-1,2,3,0,-2,4,-3,5,-4,3,-5,4,-3,
5,-4,6,-5,7,9,-6,5,-4,6,-5,4,-6,5,-4,6,-5,4,-6,5,
-5,6,-7,5,-6,8,-7,6,-8,7,-6,9,-8,7,-9,8,-10,9,-8,12,
-9,11,-10,9,-8,12,-10,11,-9,10,-12,11,-9,12,-10,11,-12,13,-11,12,
-12,13,-11,14,-12,12,-16,14,-10,12,-13,18,-14,10,-18,18,-12,14,-10,11,
-9,8,-7,9,-6,8,-7,6,-8,7,-6,7,-5,6,-7,6,-5,6,-6,5,
-6,5,-7,6,-5,6,-4,5,10,-7,6,-5,5,-4,5,-5,4,-5,4,-4,
3,-4,4,-3,3,-4,4,-3,4,-3,3,-4,4,-3,3,-3,4,-3,3,-4,
4,-3,3,-4,3,-3,4,-3,3,-4,4,-3,3,-3,4,-4,3,-3,4,-3,
3,-4,3,-3,4,-3,3,-4,4,-3,3,-3,4,-3,3,-4,3,-3,4,-3,
4,-3,3,-4,3,-3,4,-3,3,-4,4,-3,3,-3,4,-4,3,-3,4,-3,
3,-6,4,-3,3,-4,3,-3,4,-3,3,-4,4,-3,3,-3,4,-3,3,-4,
3,-3,4,-3,3,-4,3,-3,4,-4,3,-3,4,-3,3,-3,4,-3,3,-4,
4,-3,3,-3,4,-3,3,-4,3,-3,4,-3,3,-4,4,-3,3,-3,4,-3,
3,-4,3,-3,4,-3,3,-3,4,-4,3,-3,4,-3,3,-4,3,-3,4,-3,
4,-3,3,-4,3,-3,4,-3,3,-3,4,-4,3,-3,4,-3,3,-4,3,-3,
4,-3,3,-4,3,-3,4,-3,5,-3,4,-3,3,-4,5,-3,4,-3,5,-5];

const FACH = [
0,1,0,-1,0,1,0,0,-1,0,1,0,0,-1,0,1,0,-1,0,1,
0,0,-1,0,1,0,-1,0,0,1,0,-1,0,0,1,0,0,-1,0,1,
0,-1,0,0,1,0,-1,0,1,0,0,-1,0,1,0,0,-1,0,0,1,
0,-1,0,1,0,0,-1,0,1,0,0,-1,0,1,0,-1,0,0,1,0,
-1,0,1,0,0,-1,0,1,0,-1,0,0,1,0,-1,0,1,0,0,-1,
0,1,0,-1,0,1,16,-18,9,-8,6,-5,4,-6,5,-4,3,-5,4,-3,
4,-5,4,-3,5,-4,3,-4,4,-3,5,-4,3,-4,4,-5,3,-4,4,-3,
5,-4,3,-5,4,-3,5,-4,4,-5,3,-4,5,-4,6,-5,4,-6,5,-4,
6,-5,7,-6,5,-7,6,-5,6,-7,5,-6,7,-5,8,-6,5,-8,6,-5,
6,-5,7,-6,5,-6,5,-7,6,-5,6,8,-6,5,-6,5,-4,5,-5,4,
-4,3,-4,4,-3,3,-3,4,-3,3,-2,3,-3,2,-3,3,-2,3,-3,2,
-2,3,-2,2,-3,2,-2,2,-2,3,-2,2,-2,1,-2,2,-2,2,-1,2,
-1,1,-1,2,-1,1,-1,1,0,-1,1,-1,1,-1,0,1,-1,1,0,-1,
1,-1,0,1,-1,1,0,-1,1,0,-1,1,-1,0,1,-1,0,1,-1,0,
1,-1,0,1,-1,0,1,-1,1,0,-1,1,0,-1,1,0,-1,0,1,-1,
0,1,-1,0,1,-1,1,0,-1,0,1,-1,0,1,0,-1,1,0,-1,0,
1,-1,0,1,0,-1,1,-1,0,1,0,-1,0,1,-1,0,1,0,-1,1,
0,-1,1,0,-1,1,0,-1,0,1,-1,0,1,0,-1,1,0,-1,0,1,
-1,1,0,-1,1,0,-1,1,0,-1,0,1,-1,0,1,0,-1,1,0,-1,
1,0,-1,1,-1,0,1,0,-1,1,0,-1,0,1,-1,0,1,-1,0,1,
0,-1,1,0,-1,1,0,-1,1,0,-1,0,1,-1,0,1,0,-1,1,0,
-1,1,0,-1,0,1,-1,0,1,0,-1,1,0,-1,1,0,-1,0,1,0];

const HILG = [
2,-2,3,-1,2,-3,1,2,-2,3,-2,1,-2,2,-3,2,1,-2,2,-1,
-2,3,-1,2,-3,2,-1,2,-2,1,3,-2,-1,2,-3,2,-2,3,-1,-2,
2,-2,3,-1,2,-3,2,-1,3,-2,5,-2,1,-3,2,-2,3,-1,2,-3,
2,-1,3,-2,2,-3,1,2,-2,3,-2,1,-3,2,-2,3,-1,2,-3,2,
-2,3,-1,2,-3,2,-2,3,-2,1,-3,2,-1,3,-2,2,-3,1,2,-2,
3,-2,2,-3,1,2,-2,3,-2,2,-3,2,-1,3,-2,2,5,-6,8,-7,
9,-10,12,-9,11,-10,12,16,-18,10,-11,12,-9,10,-12,11,-9,13,-10,12,
-11,10,-13,12,-11,14,-12,10,-13,11,-10,12,-11,13,-12,10,-11,12,-13,11,
-12,14,-12,10,-13,12,-11,13,-10,12,-12,11,-13,10,18,-15,12,-10,13,-11,
12,-11,13,-10,12,-11,10,-12,11,-10,12,-15,10,-12,11,-10,12,-11,10,-9,
8,-9,7,-8,9,-7,8,13,-9,8,-7,6,-7,8,-6,7,-6,5,-7,6,
-5,6,-6,5,-7,6,-5,6,-6,5,-5,6,-4,5,-6,5,-5,6,-5,4,
-5,6,-5,4,-6,5,-5,6,-4,5,-6,5,-4,6,-5,4,-5,6,-5,4,
-5,7,-5,6,-5,4,-6,5,-4,5,-5,4,-4,5,-4,4,-5,4,-3,4,
-4,3,-4,4,-3,4,-3,3,-4,3,-3,4,-3,3,-3,4,-3,3,-4,3,
-3,4,-3,3,-3,4,-4,3,-3,4,-3,3,-3,4,-3,3,-4,3,-3,4,
-3,3,-4,3,-3,4,-3,3,-3,4,-3,3,-4,3,-3,4,-3,3,-3,4,
-3,3,-4,3,-3,4,-3,3,-3,4,-4,3,-3,4,-3,3,-4,3,-3,4,
-4,3,-3,4,-3,3,-4,3,-3,4,-3,3,-3,4,-4,3,-3,4,-3,3,
-3,4,-3,3,-4,3,-3,4,-3,3,-3,4,-3,3,-4,3,-3,4,-3,3,
-4,3,-3,4,-3,3,-3,4,-4,3,-3,4,-3,3,-4,3,-3,4,-3,3,
-3,4,-3,3,-4,3,-3,4,-3,3,-4,3,-3,4,-3,3,-4,3,5,-6];

const BINZ = [
2,1,-1,-2,1,2,0,-2,-1,1,2,0,-2,-1,1,3,0,-2,-1,1,
2,0,-3,-1,2,1,-2,-2,1,3,0,-2,-1,2,1,-2,-1,1,2,-1,
-2,-2,-1,1,2,2,1,-1,-2,-2,0,1,2,2,1,-1,-2,-2,-1,1,
2,3,1,0,-1,-2,-2,0,1,2,2,0,-2,-3,-1,1,2,2,1,-1,
-2,-2,-1,1,2,3,1,-1,-2,-2,-1,1,2,2,0,-1,-2,-2,0,2,
2,2,0,-1,-2,-2,0,1,2,1,-1,-2,-1,1,4,-3,3,-4,5,-3,
4,-5,3,-4,5,-3,4,-5,4,-3,5,-4,3,-5,4,-6,5,-4,5,-3,
4,-5,6,-4,5,-6,4,-5,6,-5,4,-6,5,-4,6,-5,7,-6,5,-6,
8,-7,6,-8,7,-9,8,-6,7,-8,9,-7,8,-9,7,-10,9,-8,10,-9,
9,-10,11,-9,10,-12,11,-10,12,-11,10,-12,13,-11,12,-10,14,18,-18,16,
-12,10,-9,11,-10,9,-8,10,-9,8,-10,9,-8,12,-8,7,-9,6,-7,8,
-6,5,-6,4,-5,6,-4,5,-4,4,-5,4,-5,3,-4,5,-3,4,-4,3,
-5,4,-3,5,-4,3,-4,4,-3,4,-4,3,-3,4,-3,3,-4,3,-3,3,
-3,4,-3,3,-3,2,-3,3,-2,3,-3,2,-3,3,-2,2,-3,2,-2,3,
2,1,-2,-3,-1,2,3,1,-2,-2,-1,2,3,0,-2,-3,0,2,2,1,
-2,-2,1,3,1,-2,-2,0,2,3,0,-2,-3,-1,2,2,1,-2,-3,0,
2,2,0,-2,-2,1,2,2,-1,-3,-1,2,2,1,-2,-2,0,2,3,0,
-2,-2,1,2,2,-1,-3,-1,2,2,0,-2,-2,1,3,1,-2,-2,0,2,
2,0,-2,-2,1,2,1,-1,-2,-1,2,2,0,-2,-2,1,2,1,-2,-2,
0,2,2,-1,-2,-1,2,3,0,-2,-2,1,2,1,-2,-3,0,2,2,0,
-2,-2,1,2,2,-1,-2,-1,2,3,0,-2,-2,1,2,1,-2,-3,0,2,
2,0,-2,-2,1,3,1,-2,-2,0,2,2,-1,-2,-1,2,3,0,-2,-1];

const GWBE = [
1,-1,0,1,-1,1,0,-1,1,0,-1,1,-1,0,1,-1,1,0,-1,1,
-1,0,1,-1,1,0,-1,1,-1,0,1,-1,1,0,-1,1,0,-1,1,-1,
0,1,-1,1,0,-1,1,-1,0,1,-1,1,0,-1,1,0,-1,1,-1,0,
1,-1,0,1,-1,1,0,-1,1,-1,0,1,-1,1,0,-1,1,-1,1,0,
-1,1,-1,0,1,-1,1,0,-1,1,-1,1,0,-1,1,-1,0,1,-1,1,
0,-1,1,-1,0,1,-1,1,0,-1,1,-1,1,0,-1,1,17,-14,12,-10,
9,-8,10,-9,8,-11,10,-9,11,-10,9,-8,10,-12,14,-12,10,-9,11,-10,
8,-9,10,-8,12,14,-10,9,-11,10,-8,11,-10,9,-12,10,-11,12,-10,11,
-12,13,16,-14,12,-11,13,-12,-15,12,-11,10,-12,13,-10,11,-12,10,-11,12,
-10,11,-13,12,-10,13,-11,12,-10,14,-12,11,-13,12,-11,13,18,-14,12,-11,
12,-18,14,-10,11,-9,8,-10,9,-7,8,-9,7,-8,6,-7,8,-6,7,-6,
6,-5,7,-5,6,-4,5,-6,4,-5,6,-4,5,-5,4,-6,5,-4,5,-4,
5,-4,6,-4,4,-5,3,-4,4,-3,5,-4,3,-4,4,-3,4,-3,3,-4,
4,-3,4,-3,3,-4,3,-3,4,-3,3,-4,3,-3,4,-3,3,-3,2,-3,
3,-3,4,-3,3,-4,3,-3,2,-3,3,-4,3,-3,2,-3,4,-3,3,-3,
2,-3,3,-2,3,-3,2,-3,3,-2,3,-3,2,-2,3,-3,2,-3,3,-2,
2,-3,2,-2,3,-2,2,-3,2,-2,2,-3,2,-2,3,-2,2,-2,2,-3,
2,-2,3,-2,2,-2,2,-3,2,-2,2,-2,3,-2,2,-2,2,-2,3,-2,
2,-2,2,-1,2,-2,2,-2,1,-2,2,-2,2,-1,2,-2,2,-2,1,-2,
2,-1,2,-2,2,-2,1,-2,2,-1,2,-2,2,-2,1,-2,2,-1,2,-2,
2,-2,1,-2,2,-1,2,-2,2,-2,1,-2,2,-1,2,-2,2,-2,1,-2,
2,-1,2,-2,1,-2,2,-2,2,-1,2,-2,1,-2,2,-1,2,-2,1,3];

const traces = [BGG,PYRM,BEUR,KOGO,RHEN,ABH,NMED,BHE,OMED,LAGB,GWBD,BEMS,PROB,TRIT,BEDO,KOE,GLOK,AHRW,FACH,HILG,BINZ,GWBE];

// time of every sample, from the sampling schedule
const TIMES = [];
SEGMENTS.forEach(([t0, dt, n]) => { for (let k = 0; k < n; k++) TIMES.push(+(t0 + k * dt).toFixed(3)); });

const FONT = '"Liberation Sans", Arial, Helvetica, sans-serif';
const N = stations.length;
const TOP = 108, PANEL_H = 160, LEFT = 172, RIGHT = 38;

const grids = [], xAxes = [], yAxes = [], series = [];
for (let i = 0; i < N; i++) {
  const last = i === N - 1;
  grids.push({ left: LEFT, right: RIGHT, top: TOP + PANEL_H * i, height: PANEL_H,
    show: true, borderColor: '#000', borderWidth: 2, backgroundColor: 'transparent' });
  xAxes.push({ type: 'value', gridIndex: i, min: 0, max: X_MAX, interval: X_TICK,
    axisLine: { show: false },
    axisTick: { show: true, inside: true, length: 7, lineStyle: { color: '#000', width: 2 } },
    splitLine: { show: false },
    axisLabel: { show: last, showMaxLabel: false, color: '#000', fontSize: 32, fontFamily: FONT, margin: 9 } });
  yAxes.push({ type: 'value', gridIndex: i, min: -20, max: 20, interval: 20,
    axisLine: { show: false }, axisTick: { show: false }, splitLine: { show: false },
    axisLabel: { show: true, margin: 19, color: '#000', fontSize: 37, fontFamily: FONT,
      formatter: (v) => (v === 0 ? stations[i] : '') } });
  const vals = traces[i];
  const data = [];
  for (let k = 0; k < Math.min(vals.length, TIMES.length); k++) data.push([TIMES[k], vals[k]]);
  series.push({ type: 'line', xAxisIndex: i, yAxisIndex: i, showSymbol: false, symbol: 'none',
    clip: true, silent: true, animation: false,
    lineStyle: { color: '#000', width: 2 }, data: data });
}

const chart = echarts.init(document.getElementById('c'), null, { renderer: 'canvas', width: 2005, height: 3761 });
chart.setOption({
  backgroundColor: '#fff',
  animation: false,
  grid: grids, xAxis: xAxes, yAxis: yAxes, series: series,
  graphic: [
    { type: 'text', x: 1077, y: 82, style: { text: TITLE, fill: '#000', font: 'bold 38px ' + FONT,
      align: 'center', verticalAlign: 'middle', textAlign: 'center', textVerticalAlign: 'middle' } },
    { type: 'text', x: 978, y: 3698, style: { text: X_NAME, fill: '#000', font: 'bold 36px ' + FONT,
      align: 'center', verticalAlign: 'middle', textAlign: 'center', textVerticalAlign: 'middle' } }
  ]
});
</script>
</body>
</html>
